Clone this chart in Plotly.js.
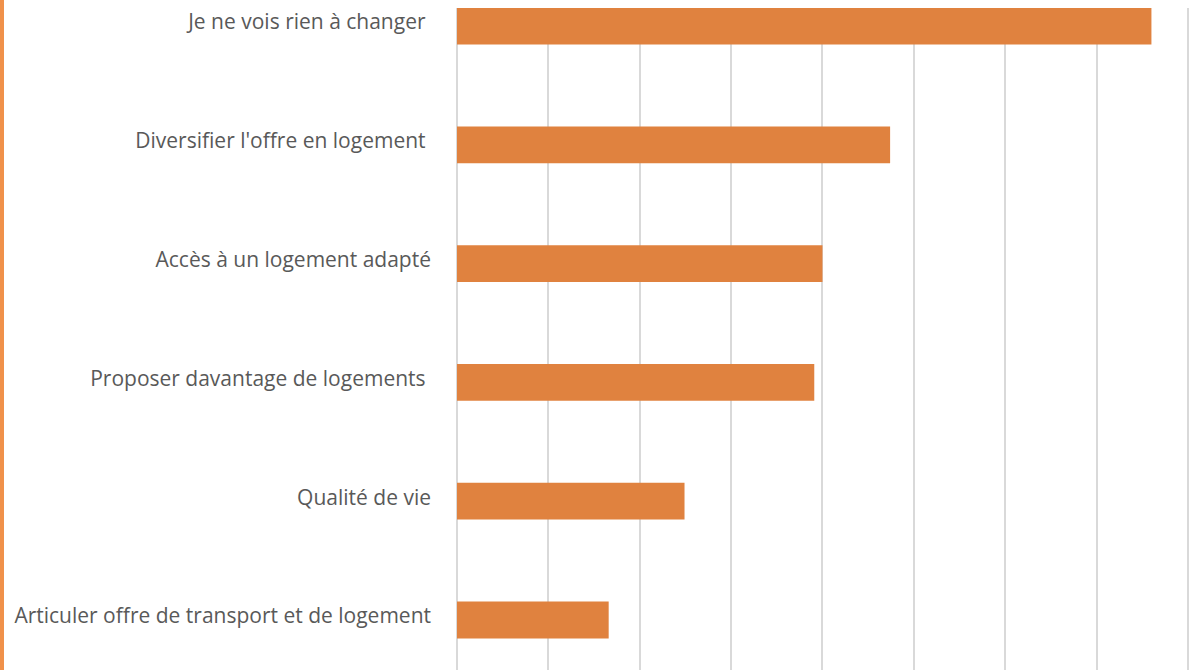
<!DOCTYPE html>
<html>
<head>
<meta charset="utf-8">
<script src="https://cdn.plot.ly/plotly-3.0.1.min.js"></script>
<style>
  html, body { margin: 0; padding: 0; background: #fff; overflow: hidden; }
  #chart { width: 1199px; height: 670px; }
  #edge { position: absolute; left: 0; top: 0; width: 4px; height: 670px; background: #F0914A; }
</style>
</head>
<body>
<div id="chart"></div>
<div id="edge"></div>
<script>
// Data (bottom to top as drawn)
const categories = [
  "Articuler offre de transport et de logement",
  "Qualité de vie",
  "Proposer davantage de logements ",
  "Accès à un logement adapté",
  "Diversifier l'offre en logement ",
  "Je ne vois rien à changer "
];
const values = [8.3, 12.45, 19.55, 20, 23.7, 38];

const trace = {
  type: 'bar',
  orientation: 'h',
  y: categories,
  x: values,
  marker: { color: '#E0823F', line: { width: 0 } },
  hoverinfo: 'x+y'
};

const layout = {
  width: 1199,
  height: 670,
  margin: { l: 457, r: 7, t: 8, b: 0, pad: 0 },
  paper_bgcolor: '#ffffff',
  plot_bgcolor: '#ffffff',
  bargap: 0.69,
  showlegend: false,
  font: { family: '"Open Sans", sans-serif', size: 21, color: '#595959' },
  xaxis: {
    range: [0, 40.22],
    dtick: 5,
    showgrid: true,
    gridcolor: '#D9D9D9',
    gridwidth: 2,
    zeroline: true,
    zerolinecolor: '#D9D9D9',
    zerolinewidth: 2,
    showticklabels: false,
    ticks: '',
    showline: false,
    fixedrange: true
  },
  yaxis: {
    type: 'category',
    range: [-0.421, 5.152],
    showgrid: false,
    zeroline: false,
    showline: false,
    ticks: '',
    ticklabelstandoff: 25,
    ticklabelshift: -4,
    tickfont: { family: '"Open Sans", sans-serif', size: 21, color: '#595959' },
    fixedrange: true
  }
};

Plotly.newPlot('chart', [trace], layout, { displayModeBar: false, staticPlot: true });
</script>
</body>
</html>
